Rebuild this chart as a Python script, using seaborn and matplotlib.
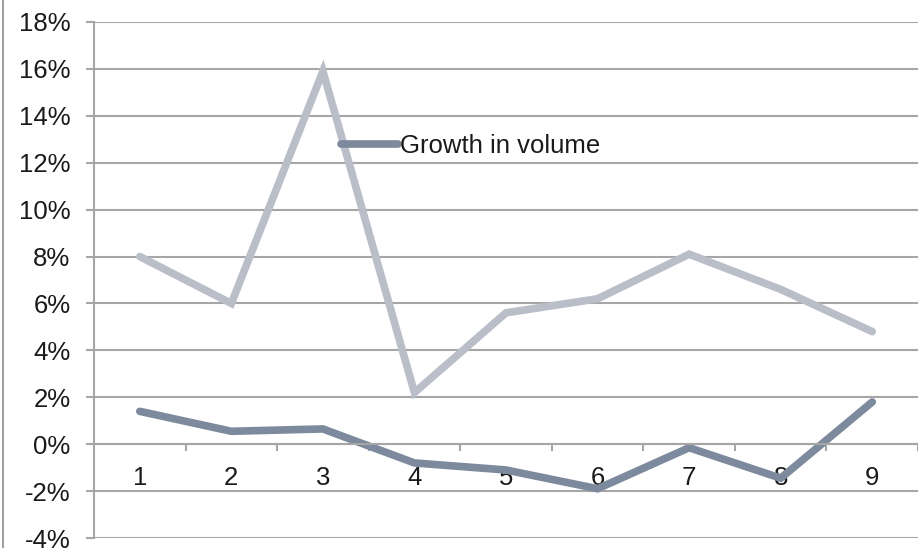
import matplotlib
matplotlib.use("Agg")
import matplotlib.pyplot as plt
from matplotlib.lines import Line2D
from matplotlib.ticker import FixedLocator, PercentFormatter
import pandas as pd
import seaborn as sns

# data
periods = [1, 2, 3, 4, 5, 6, 7, 8, 9]
growth_other = [8.0, 6.0, 15.9, 2.2, 5.6, 6.2, 8.1, 6.6, 4.8]
growth_volume = [1.4, 0.55, 0.65, -0.8, -1.1, -1.9, -0.15, -1.45, 1.8]
y_ticks = [-4, -2, 0, 2, 4, 6, 8, 10, 12, 14, 16, 18]

light = "#B9BEC8"
dark = "#7D8A9D"
grid_col = "#A6A6A6"
text_col = "#1A1A1A"

sns.set_theme(style="white")
plt.rcParams["font.family"] = ["Liberation Sans", "DejaVu Sans"]
plt.rcParams["axes.unicode_minus"] = False

df = pd.DataFrame({"period": periods, "other": growth_other, "volume": growth_volume})

fig = plt.figure(figsize=(9.18, 5.48), dpi=100)
ax = fig.add_axes([94 / 918, 10 / 548, 824 / 918, 516 / 548])

sns.lineplot(data=df, x="period", y="other", ax=ax, color=light, linewidth=5.5,
             solid_capstyle="round", solid_joinstyle="miter", label="_nolegend_")
sns.lineplot(data=df, x="period", y="volume", ax=ax, color=dark, linewidth=5.5,
             solid_capstyle="round", solid_joinstyle="miter", label="Growth in volume")

ax.set_xlim(0.5, 9.5)
ax.set_ylim(-4, 18)
ax.set_yticks(y_ticks)
ax.yaxis.set_major_formatter(PercentFormatter(decimals=0))
ax.set_xticks(periods)
ax.set_xticklabels([str(p) for p in periods])
ax.xaxis.set_minor_locator(FixedLocator([p + 0.5 for p in periods]))
ax.set_xlabel("")
ax.set_ylabel("")

ax.grid(axis="y", color=grid_col, linewidth=1.5)
ax.set_axisbelow(True)

for side in ["top", "right"]:
    ax.spines[side].set_visible(False)
ax.spines["left"].set_color(grid_col)
ax.spines["left"].set_linewidth(1.5)
ax.spines["bottom"].set_position(("data", 0))
ax.spines["bottom"].set_color(grid_col)
ax.spines["bottom"].set_linewidth(1.5)

ax.tick_params(axis="y", which="major", left=True, length=6, width=1.5, color=grid_col,
               direction="out", pad=11, labelsize=18.5, labelcolor=text_col)
ax.tick_params(axis="x", which="major", bottom=True, length=0, pad=16,
               labelsize=18.5, labelcolor=text_col)
ax.tick_params(axis="x", which="minor", bottom=True, length=5, width=1.5,
               color=grid_col, direction="out")

ax.legend(loc="center left", bbox_to_anchor=(0.2998, 0.76), frameon=False,
          fontsize=18.5, handlelength=2.2, handletextpad=0.1, borderpad=0,
          borderaxespad=0, labelcolor=text_col)

# thin border line at the left edge of the figure
fig.add_artist(Line2D([3 / 918, 3 / 918], [0, 1], transform=fig.transFigure,
                      color="#A0A0A0", linewidth=1.5))

fig.savefig("out.png", dpi=100)
